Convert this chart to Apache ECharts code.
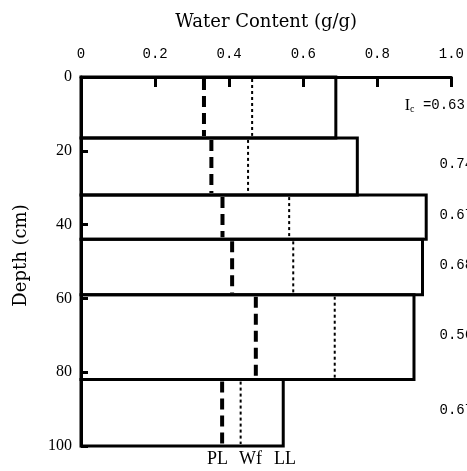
<!DOCTYPE html>
<html><head><meta charset="utf-8">
<script src="https://cdn.jsdelivr.net/npm/echarts@6/dist/echarts.min.js"></script>
<style>html,body{margin:0;padding:0;background:#fff}#c{width:467px;height:471px}</style>
</head><body><div id="c"></div>
<script>
const layerTop    = [0, 16.5, 32, 44, 59, 82];
const layerBottom = [16.5, 32, 44, 59, 82, 100];
const LL = [0.688, 0.746, 0.932, 0.922, 0.899, 0.546];
const PL = [0.332, 0.352, 0.382, 0.408, 0.472, 0.381];
const Wf = [0.462, 0.451, 0.562, 0.573, 0.685, 0.431];
const Ic = ['0.63', '0.74', '0.67', '0.68', '0.56', '0.67'];
const bottomLabels = ['PL', 'Wf', 'LL'];

const serif = '"Liberation Serif", "DejaVu Serif", serif';
const wideSerif = '"DejaVu Serif", "Liberation Serif", serif';
const mono = '"Liberation Mono", "DejaVu Sans Mono", monospace';

const chart = echarts.init(document.getElementById('c'), null, {renderer: 'canvas'});
const layers = layerTop.map((t, i) => [t, layerBottom[i], LL[i], PL[i], Wf[i], i]);

function vline(xIdx, style) {
  return function (params, api) {
    const top = api.value(0), bot = api.value(1), x = api.value(xIdx);
    const a = api.coord([x, top]);
    const b = api.coord([x, bot]);
    return {type: 'line', shape: {x1: a[0], y1: a[1] + 2, x2: b[0], y2: b[1] - 2}, style: style};
  };
}

const bottomX = [207, 239, 274];

chart.setOption({
  animation: false,
  backgroundColor: '#fff',
  grid: {left: 81, top: 77, right: 15, bottom: 25},
  xAxis: {
    type: 'value', position: 'top', min: 0, max: 1, interval: 0.2,
    name: 'Water Content (g/g)', nameLocation: 'middle', nameGap: 46,
    nameTextStyle: {fontFamily: wideSerif, fontSize: 18, color: '#000'},
    axisLine: {show: true, lineStyle: {color: '#000', width: 3}},
    axisTick: {show: true, inside: true, length: 10, lineStyle: {color: '#000', width: 3}},
    axisLabel: {fontFamily: mono, fontSize: 14, color: '#000', margin: 16,
      formatter: v => v === 0 ? '0' : v.toFixed(1)},
    splitLine: {show: false}
  },
  yAxis: {
    type: 'value', inverse: true, min: 0, max: 100, interval: 20,
    name: 'Depth (cm)', nameLocation: 'middle', nameGap: 51, nameRotate: 90,
    nameTextStyle: {fontFamily: wideSerif, fontSize: 18, color: '#000', padding: [0, 0, 0, 12]},
    axisLine: {show: true, lineStyle: {color: '#000', width: 3}},
    axisTick: {show: true, inside: true, length: 7, lineStyle: {color: '#000', width: 3}},
    axisLabel: {fontFamily: serif, fontSize: 16, color: '#000', margin: 9},
    splitLine: {show: false}
  },
  series: [
    {
      type: 'custom', name: 'LL', data: layers, encode: {x: 2, y: [0, 1]}, clip: false,
      renderItem: function (params, api) {
        const a = api.coord([0, api.value(0)]);
        const b = api.coord([api.value(2), api.value(1)]);
        return {type: 'rect', shape: {x: a[0], y: a[1], width: b[0] - a[0], height: b[1] - a[1]},
          style: {fill: 'none', stroke: '#000', lineWidth: 3}};
      }
    },
    {
      type: 'custom', name: 'PL', data: layers, encode: {x: 3, y: [0, 1]}, clip: false,
      renderItem: vline(3, {stroke: '#000', lineWidth: 4, lineDash: [11, 6]})
    },
    {
      type: 'custom', name: 'Wf', data: layers, encode: {x: 4, y: [0, 1]}, clip: false,
      renderItem: vline(4, {stroke: '#000', lineWidth: 2, lineDash: [3, 3]})
    },
    {
      type: 'custom', name: 'Ic', data: layers, encode: {y: [0, 1]}, clip: false,
      renderItem: function (params, api) {
        const i = api.value(5);
        const mid = (api.value(0) + api.value(1)) / 2;
        const first = i === 0;
        const p = api.coord([first ? 0.874 : 0.968, mid]);
        return {
          type: 'text', x: p[0], y: p[1] - 2,
          style: first ? {
            text: '{i|I}{s|c}{n| =' + Ic[i] + '}',
            rich: {
              i: {fontFamily: serif, fontSize: 16, fill: '#000'},
              s: {fontFamily: serif, fontSize: 10, fill: '#000', verticalAlign: 'bottom', padding: [8, 0, 0, 0]},
              n: {fontFamily: mono, fontSize: 14, fill: '#000'}
            },
            verticalAlign: 'middle', align: 'left'
          } : {
            text: Ic[i], fontFamily: mono, fontSize: 14, fill: '#000',
            verticalAlign: 'middle', align: 'left'
          }
        };
      }
    }
  ],
  graphic: bottomLabels.map((t, i) => ({
    type: 'text', left: bottomX[i], top: 450,
    style: {text: t, fontFamily: serif, fontSize: 18, fill: '#000'}
  }))
});
</script></body></html>
